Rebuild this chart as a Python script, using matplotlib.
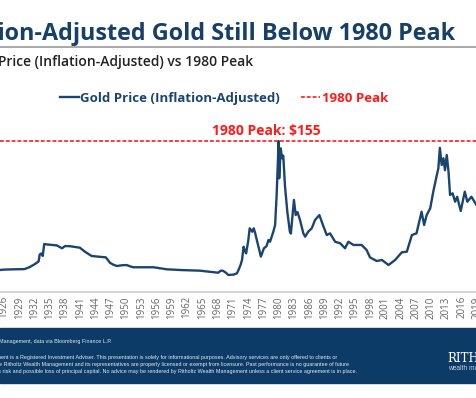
import matplotlib.pyplot as plt
from matplotlib.patches import Rectangle

# Gold price, inflation-adjusted
years = [1925.2, 1926.0, 1928.0, 1930.0, 1931.0, 1932.0, 1932.8, 1933.0, 1933.3, 1933.6,
         1933.9, 1934.5, 1935.5, 1936.4, 1937.0, 1937.4, 1938.0, 1939.0, 1939.6, 1940.9,
         1941.9, 1942.6, 1943.2, 1944.5, 1946.0, 1946.4, 1946.8, 1947.5, 1948.2, 1949.1,
         1950.1, 1950.7, 1951.4, 1953.0, 1955.4, 1958.0, 1961.0, 1964.5, 1968.1, 1968.6,
         1969.0, 1969.6, 1970.1, 1971.1, 1971.8, 1972.1, 1972.5, 1972.8, 1973.1, 1973.4,
         1973.6, 1974.0, 1974.3, 1974.8, 1975.1, 1975.4, 1975.7, 1976.1, 1976.5, 1977.1,
         1977.6, 1978.0, 1978.3, 1978.95, 1979.3, 1979.6, 1980.0, 1980.1, 1980.4, 1980.66,
         1980.9, 1981.25, 1981.7, 1982.2, 1982.4, 1983.0, 1983.35, 1983.7, 1984.2, 1984.85,
         1985.2, 1985.8, 1986.5, 1987.15, 1988.0, 1988.7, 1989.45, 1990.1, 1991.1, 1992.1,
         1993.05, 1993.7, 1994.7, 1996.3, 1997.3, 1997.96, 1999.3, 2000.3, 2001.6, 2002.9,
         2004.2, 2005.2, 2006.2, 2007.1, 2008.1, 2008.6, 2009.1, 2009.8, 2010.4, 2011.1,
         2011.4, 2011.7, 2012.05, 2012.4, 2012.7, 2013.05, 2013.4, 2013.7, 2014.2, 2014.7,
         2015.1, 2015.8, 2016.6, 2017.1, 2017.9, 2018.9]
prices = [22.6, 23.0, 23.3, 23.5, 25.5, 28.5, 31.5, 38.5, 39.5, 37.0,
          49.3, 48.8, 48.3, 47.8, 46.0, 44.9, 47.2, 47.0, 46.5, 45.5,
          41.4, 39.0, 37.0, 36.3, 35.6, 33.0, 30.1, 28.0, 26.7, 27.4,
          27.7, 26.5, 25.4, 25.4, 25.4, 23.3, 22.5, 21.9, 19.8, 21.9,
          21.9, 19.9, 17.5, 17.8, 19.2, 22.6, 27.7, 33.0, 46.5, 42.0,
          39.7, 52.0, 65.4, 61.9, 65.4, 60.0, 53.4, 45.0, 36.3, 44.9,
          47.0, 53.4, 51.6, 61.9, 68.8, 99.6, 155.0, 116.7, 147.5, 137.3,
          140.0, 108.1, 82.4, 61.9, 60.0, 94.5, 79.0, 82.0, 73.9, 60.2,
          56.8, 61.9, 65.4, 73.9, 79.0, 68.8, 58.5, 60.2, 51.6, 50.0,
          44.9, 51.6, 48.3, 48.3, 43.1, 35.5, 31.8, 32.9, 27.7, 32.9,
          40.7, 41.4, 58.5, 60.2, 82.4, 68.8, 79.0, 85.9, 103.0, 120.0,
          127.0, 148.0, 130.4, 137.3, 125.0, 140.7, 123.5, 99.6, 101.3, 92.7,
          97.8, 83.2, 103.0, 92.7, 97.8, 89.3]
peak_1980 = 155
tick_years = list(range(1926, 2020, 3))

navy = '#1b4571'
red = '#ff1a1a'

plt.rcParams['font.family'] = ['Open Sans', 'DejaVu Sans']
fig = plt.figure(figsize=(4.77, 3.98), dpi=100)

ax = fig.add_axes([0, 1 - 292 / 398, 1, (292 - 120) / 398])
ax.plot(years, prices, color=navy, lw=1.7, label='Gold Price (Inflation-Adjusted)')
ax.axhline(peak_1980, color=red, lw=1.2, linestyle=(0, (2.3, 1.2)), label='1980 Peak')
ax.text(1977.5, peak_1980 + 3, '1980 Peak: $155', color=red, fontsize=10,
        fontweight='bold', ha='center', va='bottom')

ax.set_xlim(1925.2, 2019.0)
ax.set_ylim(0, 176.6)
ax.set_xticks(tick_years)
ax.set_xticklabels([str(y) for y in tick_years], rotation=90, fontsize=7, color='#666666')
ax.tick_params(axis='x', length=0, pad=3)
ax.set_yticks([])
for s in ['top', 'left', 'right']:
    ax.spines[s].set_visible(False)
ax.spines['bottom'].set_color('#d6d6d6')
ax.spines['bottom'].set_linewidth(1.5)

fig.legend(loc='center', bbox_to_anchor=(224 / 477, 1 - 98.3 / 398), ncol=2, frameon=False,
           handlelength=1.45, handletextpad=0.1, columnspacing=1.6,
           prop={'weight': 'bold', 'size': 9.5}, labelcolor='linecolor')

# title block
fig.text(455 / 477, 1 - 34.5 / 398, 'Inflation-Adjusted Gold Still Below 1980 Peak',
         ha='right', va='center', fontsize=16.8, fontweight='bold', color='#163f6a')
fig.add_artist(plt.Line2D([0, 1], [1 - 46.7 / 398] * 2, color='#9a9a9a', lw=1.2))
fig.text(253 / 477, 1 - 62.3 / 398, 'Gold Price (Inflation-Adjusted) vs 1980 Peak',
         ha='right', va='center', fontsize=10, fontweight='semibold', color='#222222')

# footer
fig.add_artist(Rectangle((0, 1 - 383 / 398), 1, 55 / 398, transform=fig.transFigure,
                         color='#0c3b67', zorder=0))
foot = dict(ha='right', va='center', fontsize=3.9, color='#e6ecf3', family='Liberation Sans')
fig.text(112 / 477, 1 - 342 / 398,
         'Source: Ritholtz Wealth Management, data via Bloomberg Finance L.P.', **foot)
fig.text(337 / 477, 1 - 357.7 / 398,
         'Ritholtz Wealth Management is a Registered Investment Adviser. This presentation is '
         'solely for informational purposes. Advisory services are only offered to clients or', **foot)
fig.text(349 / 477, 1 - 364.3 / 398,
         'prospective clients where Ritholtz Wealth Management and its representatives are properly '
         'licensed or exempt from licensure. Past performance is no guarantee of future', **foot)
fig.text(357 / 477, 1 - 371 / 398,
         'returns. Investing involves risk and possible loss of principal capital. No advice may be '
         'rendered by Ritholtz Wealth Management unless a client service agreement is in place.', **foot)
fig.text(447 / 477, 1 - 359 / 398, 'RITHOLTZ', ha='left', va='center', fontsize=8.5,
         color='white', family='DejaVu Serif')
fig.text(448 / 477, 1 - 368.5 / 398, 'wealth management', ha='left', va='center', fontsize=4.8,
         color='#c9d5e2', family='Liberation Sans')

fig.savefig('out.png', dpi=100)
